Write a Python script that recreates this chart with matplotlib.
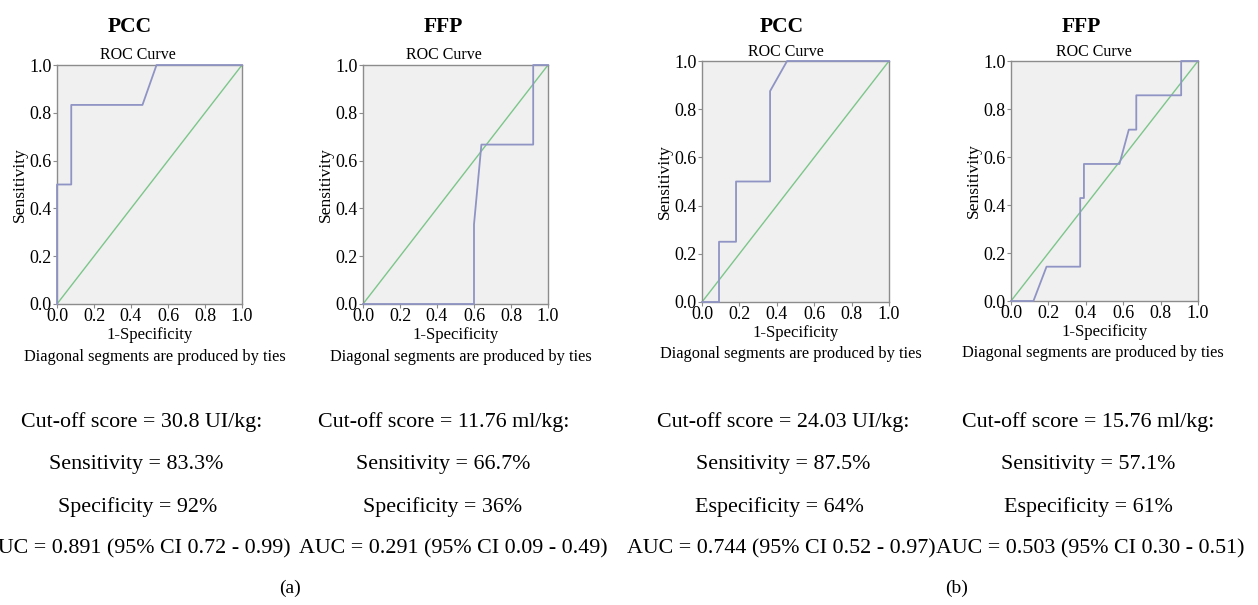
import matplotlib
matplotlib.use("Agg")
import matplotlib.pyplot as plt

plt.rcParams['font.family'] = ['Liberation Serif', 'DejaVu Serif']

# ---- data ----
panel_titles = ["PCC", "FFP", "PCC", "FFP"]

pcc_a_fpr = [0.0, 0.0, 0.077, 0.077, 0.462, 0.538, 1.0]
pcc_a_tpr = [0.0, 0.5, 0.5, 0.833, 0.833, 1.0, 1.0]

ffp_a_fpr = [0.0, 0.6, 0.6, 0.64, 0.92, 0.92, 1.0]
ffp_a_tpr = [0.0, 0.0, 0.333, 0.667, 0.667, 1.0, 1.0]

pcc_b_fpr = [0.0, 0.091, 0.091, 0.182, 0.182, 0.364, 0.364, 0.455, 1.0]
pcc_b_tpr = [0.0, 0.0, 0.25, 0.25, 0.5, 0.5, 0.875, 1.0, 1.0]

ffp_b_fpr = [0.0, 0.12, 0.19, 0.37, 0.37, 0.39, 0.39, 0.58, 0.63, 0.67, 0.67, 0.91, 0.91, 1.0]
ffp_b_tpr = [0.0, 0.0, 0.143, 0.143, 0.429, 0.429, 0.571, 0.571, 0.714, 0.714, 0.857, 0.857, 1.0, 1.0]

curves = [(pcc_a_fpr, pcc_a_tpr), (ffp_a_fpr, ffp_a_tpr),
          (pcc_b_fpr, pcc_b_tpr), (ffp_b_fpr, ffp_b_tpr)]

tick_values = [0.0, 0.2, 0.4, 0.6, 0.8, 1.0]
tick_labels = ["0.0", "0.2", "0.4", "0.6", "0.8", "1.0"]

stats = [
    ["Cut-off score = 30.8 UI/kg:", "Sensitivity = 83.3%", "Specificity = 92%",
     "AUC = 0.891 (95% CI 0.72 - 0.99)"],
    ["Cut-off score = 11.76 ml/kg:", "Sensitivity = 66.7%", "Specificity = 36%",
     "AUC = 0.291 (95% CI 0.09 - 0.49)"],
    ["Cut-off score = 24.03 UI/kg:", "Sensitivity = 87.5%", "Especificity = 64%",
     "AUC = 0.744 (95% CI 0.52 - 0.97)"],
    ["Cut-off score = 15.76 ml/kg:", "Sensitivity = 57.1%", "Especificity = 61%",
     "AUC = 0.503 (95% CI 0.30 - 0.51)"],
]
captions = ["(a)", "(b)"]

# ---- layout (pixels) ----
W, H = 1258, 605
fig = plt.figure(figsize=(W / 100, H / 100), dpi=100)

axes_px = [(57, 65, 242, 304), (363, 65, 548, 304),
           (702, 61, 889, 302), (1011, 61, 1198, 301)]
title_x = [130, 443, 782, 1081]
roc_x = [138, 444, 786, 1094]
roc_y = [55, 55, 52, 52]
note_x = [155, 461, 791, 1093]
note_y = [357, 357, 354, 353]
stat_x = [[142, 136, 138, 136], [444, 443, 443, 453],
          [783, 783, 779, 781], [1088, 1088, 1088, 1090]]
stat_y = [422, 465, 507, 549]

def fx(x):
    return x / W

def fy(y):
    return 1 - y / H

spine_col = "#8c8c8c"
for i, (x0, y0, x1, y1) in enumerate(axes_px):
    ax = fig.add_axes([fx(x0), fy(y1), (x1 - x0) / W, (y1 - y0) / H])
    ax.set_facecolor("#f0f0f0")
    fpr, tpr = curves[i]
    ax.plot([0, 1], [0, 1], color="#7cc68a", lw=1.0, zorder=2)
    ax.plot(fpr, tpr, color="#8f94c4", lw=1.3, zorder=3, clip_on=False)
    ax.set_xlim(0, 1)
    ax.set_ylim(0, 1)
    ax.set_xticks(tick_values)
    ax.set_xticklabels(tick_labels)
    ax.set_yticks(tick_values)
    ax.set_yticklabels(tick_labels)
    ax.tick_params(labelsize=13, length=3, width=0.8, color=spine_col, pad=1)
    ax.tick_params(axis="x", pad=0)
    for s in ax.spines.values():
        s.set_color(spine_col)
        s.set_linewidth(1.0)
    ax.set_xlabel("1-Specificity", fontsize=12, labelpad=1)
    ax.set_ylabel("Sensitivity", fontsize=12.5, labelpad=1)

    fig.text(fx(title_x[i]), fy(27), panel_titles[i], fontsize=15.5,
             fontweight="bold", ha="center", va="center")
    fig.text(fx(roc_x[i]), fy(roc_y[i]), "ROC Curve", fontsize=11.5,
             ha="center", va="center")
    fig.text(fx(note_x[i]), fy(note_y[i]), "Diagonal segments are produced by ties",
             fontsize=11.8, ha="center", va="center")
    for j, line in enumerate(stats[i]):
        fig.text(fx(stat_x[i][j]), fy(stat_y[j]), line, fontsize=15.8,
                 ha="center", va="center")

fig.text(fx(290), fy(588), captions[0], fontsize=14, ha="center", va="center")
fig.text(fx(957), fy(588), captions[1], fontsize=14, ha="center", va="center")

fig.savefig("out.png", dpi=100, facecolor="white")
